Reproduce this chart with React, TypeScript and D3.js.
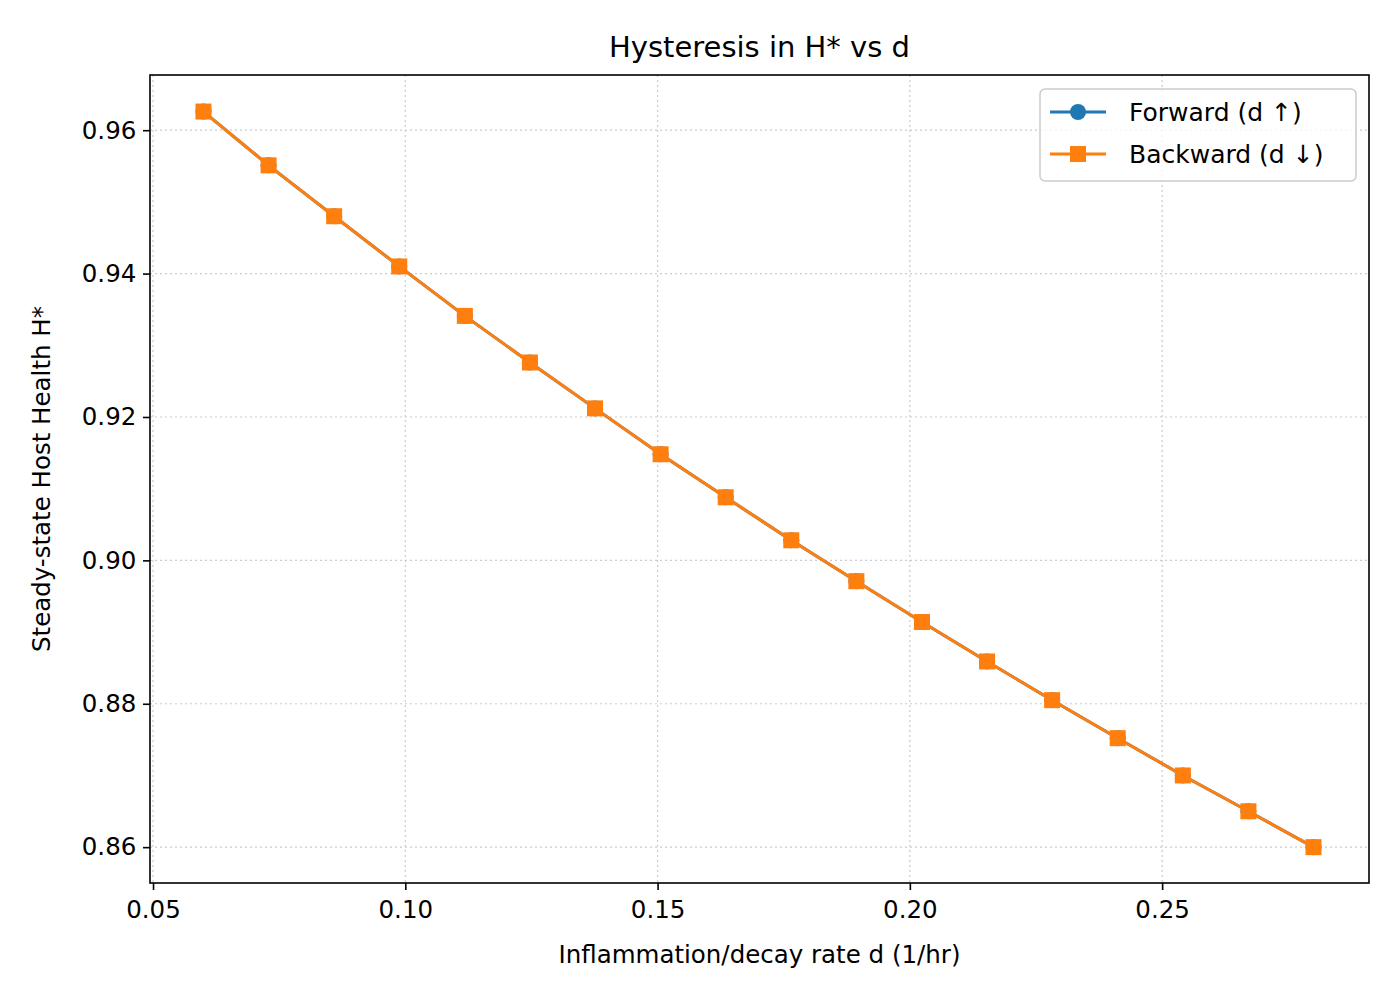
import { useEffect, useRef } from 'react';
import * as d3 from 'd3';

const dValues = [0.06, 0.0729, 0.0859, 0.0988, 0.1118, 0.1247, 0.1376, 0.1506, 0.1635, 0.1765, 0.1894, 0.2024, 0.2153, 0.2282, 0.2412, 0.2541, 0.2671, 0.28];
const forwardH = [0.9626, 0.9551, 0.948, 0.941, 0.9341, 0.9276, 0.9212, 0.9148, 0.9088, 0.9028, 0.8971, 0.8914, 0.8859, 0.8805, 0.8752, 0.87, 0.865, 0.86];
const backwardH = [0.9626, 0.9551, 0.948, 0.941, 0.9341, 0.9276, 0.9212, 0.9148, 0.9088, 0.9028, 0.8971, 0.8914, 0.8859, 0.8805, 0.8752, 0.87, 0.865, 0.86];
const xTicks = [0.05, 0.1, 0.15, 0.2, 0.25];
const yTicks = [0.86, 0.88, 0.9, 0.92, 0.94, 0.96];

const BLUE = '#1f77b4';
const ORANGE = '#ff7f0e';
const FONT = 'DejaVu Sans, sans-serif';

export default function App() {
  const ref = useRef<SVGSVGElement>(null);

  useEffect(() => {
    if (!ref.current) return;
    const svg = d3.select(ref.current);
    svg.selectAll('*').remove();

    const L = 150, R = 1369, T = 75, B = 883;
    const x = d3.scaleLinear().domain([0.0494, 0.291]).range([L, R]);
    const y = d3.scaleLinear().domain([0.855, 0.9677]).range([B, T]);

    svg.append('rect').attr('width', 1400).attr('height', 1000).attr('fill', '#fff');

    // grid
    const grid = svg.append('g').attr('stroke', '#cccccc').attr('stroke-width', 1.2).attr('stroke-dasharray', '2,3');
    xTicks.forEach((t) => grid.append('line').attr('x1', x(t)).attr('x2', x(t)).attr('y1', T).attr('y2', B));
    yTicks.forEach((t) => grid.append('line').attr('y1', y(t)).attr('y2', y(t)).attr('x1', L).attr('x2', R));

    // axes
    const xa = svg.append('g').attr('transform', `translate(0,${B})`).call(d3.axisBottom(x).tickValues(xTicks).tickFormat(d3.format('.2f')).tickSize(7).tickSizeOuter(0));
    const ya = svg.append('g').attr('transform', `translate(${L},0)`).call(d3.axisLeft(y).tickValues(yTicks).tickFormat(d3.format('.2f')).tickSize(7).tickSizeOuter(0));
    [xa, ya].forEach((a) => {
      a.select('.domain').remove();
      a.selectAll('line').attr('stroke', '#000').attr('stroke-width', 1.6);
      a.selectAll('text').attr('font-family', FONT).attr('font-size', 24.5).attr('fill', '#000');
    });
    xa.selectAll('text').attr('dy', '1.0em');
    ya.selectAll('text').attr('dx', '-0.15em');

    svg.append('rect').attr('x', L).attr('y', T).attr('width', R - L).attr('height', B - T).attr('fill', 'none').attr('stroke', '#000').attr('stroke-width', 1.6);

    const line = d3.line<number>().x((_, i) => x(dValues[i])).y((d) => y(d));
    const series = [
      { vals: forwardH, color: BLUE, marker: 'circle' },
      { vals: backwardH, color: ORANGE, marker: 'square' },
    ];
    series.forEach((s) => {
      svg.append('path').datum(s.vals).attr('fill', 'none').attr('stroke', s.color).attr('stroke-width', 3).attr('d', line);
      s.vals.forEach((v, i) => {
        if (s.marker === 'circle') svg.append('circle').attr('cx', x(dValues[i])).attr('cy', y(v)).attr('r', 8).attr('fill', s.color);
        else svg.append('rect').attr('x', x(dValues[i]) - 8).attr('y', y(v) - 8).attr('width', 16).attr('height', 16).attr('fill', s.color);
      });
    });

    // legend
    const lg = svg.append('g');
    lg.append('rect').attr('x', 1040).attr('y', 89).attr('width', 316).attr('height', 92).attr('rx', 5).attr('fill', '#fff').attr('fill-opacity', 0.8).attr('stroke', '#cccccc').attr('stroke-width', 1.5);
    const items = [
      { label: 'Forward (d ↑)', color: BLUE, marker: 'circle', cy: 112 },
      { label: 'Backward (d ↓)', color: ORANGE, marker: 'square', cy: 154 },
    ];
    items.forEach((it) => {
      lg.append('line').attr('x1', 1050).attr('x2', 1106).attr('y1', it.cy).attr('y2', it.cy).attr('stroke', it.color).attr('stroke-width', 3);
      if (it.marker === 'circle') lg.append('circle').attr('cx', 1078).attr('cy', it.cy).attr('r', 8).attr('fill', it.color);
      else lg.append('rect').attr('x', 1070).attr('y', it.cy - 8).attr('width', 16).attr('height', 16).attr('fill', it.color);
      lg.append('text').attr('x', 1129).attr('y', it.cy).attr('dy', '0.35em').attr('font-family', FONT).attr('font-size', 25).text(it.label);
    });

    svg.append('text').attr('x', (L + R) / 2).attr('y', 57).attr('text-anchor', 'middle').attr('font-family', FONT).attr('font-size', 29).text('Hysteresis in H* vs d');
    svg.append('text').attr('x', (L + R) / 2).attr('y', 963).attr('text-anchor', 'middle').attr('font-family', FONT).attr('font-size', 24.5).text('Inflammation/decay rate d (1/hr)');
    svg.append('text').attr('transform', `translate(50,${(T + B) / 2}) rotate(-90)`).attr('text-anchor', 'middle').attr('font-family', FONT).attr('font-size', 24.5).text('Steady-state Host Health H*');
  }, []);

  return (
    <div style={{ position: 'absolute', left: 0, top: 0 }}>
      <svg ref={ref} width={1400} height={1000} />
    </div>
  );
}
